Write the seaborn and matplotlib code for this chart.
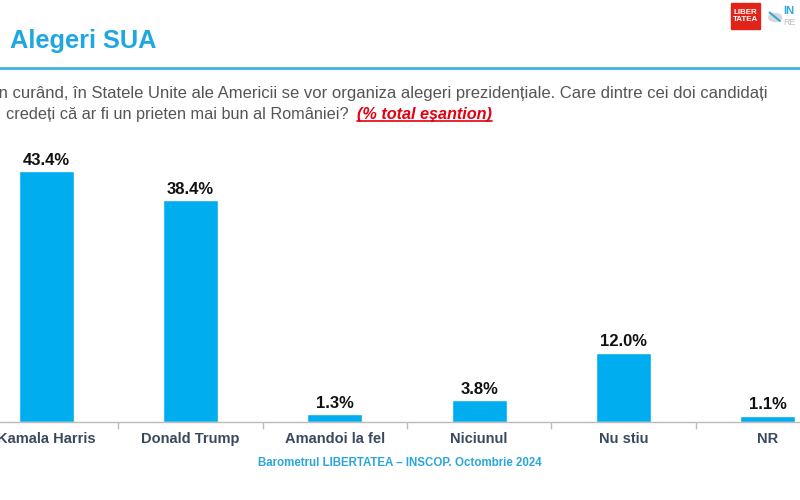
import matplotlib
matplotlib.use("Agg")
import matplotlib.pyplot as plt
from matplotlib.lines import Line2D
from matplotlib.patches import Rectangle, Circle
import seaborn as sns
import pandas as pd

# Values
categories = ["Kamala Harris", "Donald Trump", "Amandoi la fel", "Niciunul", "Nu stiu", "NR"]
values = [43.4, 38.4, 1.3, 3.8, 12.0, 1.1]

title = "Alegeri SUA"
question_1 = "În curând, în Statele Unite ale Americii se vor organiza alegeri prezidențiale. Care dintre cei doi candidați"
question_2 = "credeți că ar fi un prieten mai bun al României?  "
question_note = "(% total eşantion)"
footer = "Barometrul LIBERTATEA – INSCOP. Octombrie 2024"

BAR_BLUE = "#00AEEF"
TITLE_BLUE = "#1EA7E1"
LABEL_NAVY = "#3A4A5E"

sns.set_theme(style="white")
plt.rcParams["font.family"] = ["Liberation Sans", "DejaVu Sans"]

df = pd.DataFrame({"categorie": categories, "procent": values})

fig = plt.figure(figsize=(8, 5), dpi=100)
# axes runs a bit past both figure edges, like the cropped slide
ax = fig.add_axes([-0.0325, 0.156, 1.0825, 0.578])

sns.barplot(data=df, x="categorie", y="procent", color=BAR_BLUE, saturation=1,
            width=0.38, ax=ax)

for i, v in enumerate(values):
    ax.text(i, v + 0.6, f"{v:.1f}%", ha="center", va="bottom",
            fontsize=12, fontweight="bold", color="#111111")

ax.set_ylim(0, 50)
ax.set_xlim(-0.5, len(categories) - 0.5)
ax.set_xlabel("")
ax.set_ylabel("")
ax.set_yticks([])
ax.set_xticks(range(len(categories)))
ax.set_xticklabels(categories, fontsize=10.5, fontweight="bold", color=LABEL_NAVY)
ax.set_xticks([i + 0.5 for i in range(len(categories) - 1)], minor=True)
ax.tick_params(axis="x", which="major", length=0, pad=7)
ax.tick_params(axis="x", which="minor", length=5, width=1, color="#BBBBBB",
               direction="out", bottom=True)
for side in ["top", "right", "left"]:
    ax.spines[side].set_visible(False)
ax.spines["bottom"].set_color("#BBBBBB")
ax.spines["bottom"].set_linewidth(1)

# header
fig.text(0.012, 0.918, title, fontsize=18.3, fontweight="bold", color=TITLE_BLUE,
         va="center", ha="left")
fig.add_artist(Line2D([0, 1], [0.864, 0.864], color="#3DB4DD", lw=2,
                      transform=fig.transFigure))

q_size = 11.7
fig.text(-0.0075, 0.815, question_1, fontsize=12, color="#555555",
         va="center", ha="left")
q2 = fig.text(0.007, 0.771, question_2, fontsize=q_size, color="#555555",
              va="center", ha="left")
fig.canvas.draw()
r = fig.canvas.get_renderer()
bb2 = q2.get_window_extent(r)
note = fig.text(bb2.x1 / fig.bbox.width, 0.771, question_note, fontsize=q_size,
                color="#E3000F", fontweight="bold", fontstyle="italic",
                va="center", ha="left")
fig.canvas.draw()
bbn = note.get_window_extent(r)
fig.add_artist(Line2D([bbn.x0 / fig.bbox.width, bbn.x1 / fig.bbox.width],
                      [(bbn.y0 + 1) / fig.bbox.height] * 2,
                      color="#E3000F", lw=1.2, transform=fig.transFigure))

# LIBERTATEA / INSCOP logos
fig.add_artist(Rectangle((0.914, 0.942), 0.036, 0.052, color="#E2231A",
                         transform=fig.transFigure))
fig.text(0.932, 0.968, "LIBER\nTATEA", fontsize=5.8, fontweight="bold",
         color="white", ha="center", va="center", linespacing=0.95)
fig.add_artist(Circle((0.969, 0.965), 0.008, color="#D8D8D8",
                      transform=fig.transFigure))
fig.add_artist(Line2D([0.962, 0.975], [0.975, 0.958], color="#2FA8DC", lw=1.5,
                      transform=fig.transFigure))
fig.text(0.979, 0.978, "IN", fontsize=8, fontweight="bold", color="#2FA8DC",
         ha="left", va="center")
fig.text(0.979, 0.955, "RE", fontsize=6.5, color="#BBBBBB", ha="left", va="center")

fig.text(0.5, 0.074, footer, fontsize=8.3, fontweight="bold", color="#2AA6DA",
         ha="center", va="center")

fig.savefig("out.png", dpi=100)
